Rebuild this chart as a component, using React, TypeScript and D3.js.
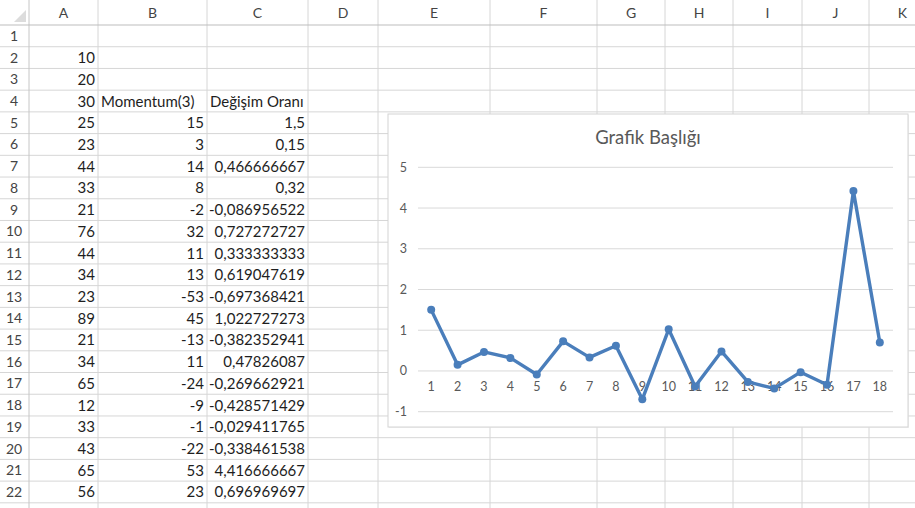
import React from "react";
import * as d3 from "d3";

const W = 915;
const H = 508;

// column letters and boundaries (sheet layout)
const colLetters = ["A", "B", "C", "D", "E", "F", "G", "H", "I", "J", "K"];
const colEdges = [29, 98, 207, 308, 378, 490, 597, 665, 733, 802, 869, 936];

// cell values
const colA = [null, 10, 20, 30, 25, 23, 44, 33, 21, 76, 44, 34, 23, 89, 21, 34, 65, 12, 33, 43, 65, 56];
const colBHeader = "Momentum(3)";
const colCHeader = "Değişim Oranı";
const colB = [15, 3, 14, 8, -2, 32, 11, 13, -53, 45, -13, 11, -24, -9, -1, -22, 53, 23];
const colC = [
  "1,5", "0,15", "0,466666667", "0,32", "-0,086956522", "0,727272727",
  "0,333333333", "0,619047619", "-0,697368421", "1,022727273", "-0,382352941",
  "0,47826087", "-0,269662921", "-0,428571429", "-0,029411765", "-0,338461538",
  "4,416666667", "0,696969697",
];
const rate = colC.map((s) => +s.replace(",", "."));
const categories = rate.map((_, i) => String(i + 1));
const yTicks = [-1, 0, 1, 2, 3, 4, 5];
const chartTitle = "Grafik Başlığı";

const headerH = 25;
const rowH = 21.72;
const nRows = 23;

const FONT = "Lato, 'Noto Sans', sans-serif";

export default function App() {
  const rowTop = (r: number) => headerH + (r - 1) * rowH; // r is 1-based

  // chart geometry
  const box = { x: 388, y: 114, w: 520, h: 313 };
  const x = d3.scaleBand<string>().domain(categories).range([418, 893]);
  const y = d3.scaleLinear().domain([-1, 5]).range([411.7, 167.3]);
  const line = d3
    .line<number>()
    .x((_, i) => (x(categories[i]) as number) + x.bandwidth() / 2)
    .y((d) => y(d));

  const gridColor = "#d6d6d6";
  const textColor = "#1e1e1e";

  const cellText = (
    col: number,
    row: number,
    txt: string,
    anchor: "end" | "start" = "end",
    key?: string
  ) => {
    const tx = anchor === "end" ? colEdges[col + 1] - 3 : colEdges[col] + 3;
    return (
      <text
        key={key}
        x={tx}
        y={rowTop(row) + rowH / 2 + 5.5}
        textAnchor={anchor}
        fontSize={15}
        fill={textColor}
        fontFamily={FONT}
      >
        {txt}
      </text>
    );
  };

  return (
    <svg
      width={W}
      height={H}
      style={{ position: "absolute", left: 0, top: 0, background: "#fff" }}
      fontFamily={FONT}
    >
      <rect x={0} y={0} width={W} height={H} fill="#fff" />
      {/* horizontal grid lines */}
      {d3.range(1, nRows + 1).map((r) => (
        <line
          key={"h" + r}
          x1={0}
          x2={W}
          y1={rowTop(r) + rowH}
          y2={rowTop(r) + rowH}
          stroke={gridColor}
          strokeWidth={1}
        />
      ))}
      {/* vertical grid lines */}
      {colEdges.map((cx, i) => (
        <line
          key={"v" + i}
          x1={cx}
          x2={cx}
          y1={0}
          y2={H}
          stroke={i === 0 ? "#c6c6c6" : gridColor}
          strokeWidth={1}
        />
      ))}
      {/* header bottom */}
      <line x1={0} x2={W} y1={headerH} y2={headerH} stroke="#bdbdbd" strokeWidth={1} />
      {/* corner triangle */}
      <path d="M 26 10 L 26 22 L 14 22 Z" fill="#dcdcdc" />
      {/* column letters */}
      {colLetters.map((c, i) => (
        <text
          key={"c" + c}
          x={(colEdges[i] + colEdges[i + 1]) / 2}
          y={18}
          textAnchor="middle"
          fontSize={14}
          fill="#444"
        >
          {c}
        </text>
      ))}
      {/* row numbers */}
      {d3.range(1, 23).map((r) => (
        <text
          key={"r" + r}
          x={14}
          y={rowTop(r) + rowH / 2 + 5}
          textAnchor="middle"
          fontSize={14}
          fill="#444"
        >
          {r}
        </text>
      ))}
      {/* column A */}
      {colA.map((v, i) => (v == null ? null : cellText(0, i + 1, String(v), "end", "a" + i)))}
      {cellText(1, 4, colBHeader, "start", "bh")}
      {cellText(2, 4, colCHeader, "start", "ch")}
      {colB.map((v, i) => cellText(1, i + 5, String(v), "end", "b" + i))}
      {colC.map((v, i) => cellText(2, i + 5, v, "end", "cc" + i))}

      {/* chart */}
      <rect
        x={box.x + 1}
        y={box.y + 1}
        width={box.w}
        height={box.h}
        fill="#e8e8e8"
        opacity={0.6}
      />
      <rect
        x={box.x}
        y={box.y}
        width={box.w}
        height={box.h}
        fill="#fff"
        stroke="#d4d4d4"
        strokeWidth={1}
      />
      <text
        x={648}
        y={144}
        textAnchor="middle"
        fontSize={18.5}
        fill="#595959"
      >
        {chartTitle}
      </text>
      {yTicks.map((t) => (
        <g key={"yt" + t}>
          <line
            x1={x.range()[0]}
            x2={x.range()[1]}
            y1={y(t)}
            y2={y(t)}
            stroke="#d9d9d9"
            strokeWidth={1}
          />
          <text x={407} y={y(t) + 4.5} textAnchor="end" fontSize={12.5} fill="#595959">
            {t}
          </text>
        </g>
      ))}
      {categories.map((c) => (
        <text
          key={"xc" + c}
          x={(x(c) as number) + x.bandwidth() / 2}
          y={391}
          textAnchor="middle"
          fontSize={12.5}
          fill="#595959"
        >
          {c}
        </text>
      ))}
      <path
        d={line(rate) || ""}
        fill="none"
        stroke="#4a7ebb"
        strokeWidth={3.4}
        strokeLinejoin="round"
      />
      {rate.map((v, i) => (
        <circle
          key={"pt" + i}
          cx={(x(categories[i]) as number) + x.bandwidth() / 2}
          cy={y(v)}
          r={4}
          fill="#4a7ebb"
        />
      ))}
    </svg>
  );
}
